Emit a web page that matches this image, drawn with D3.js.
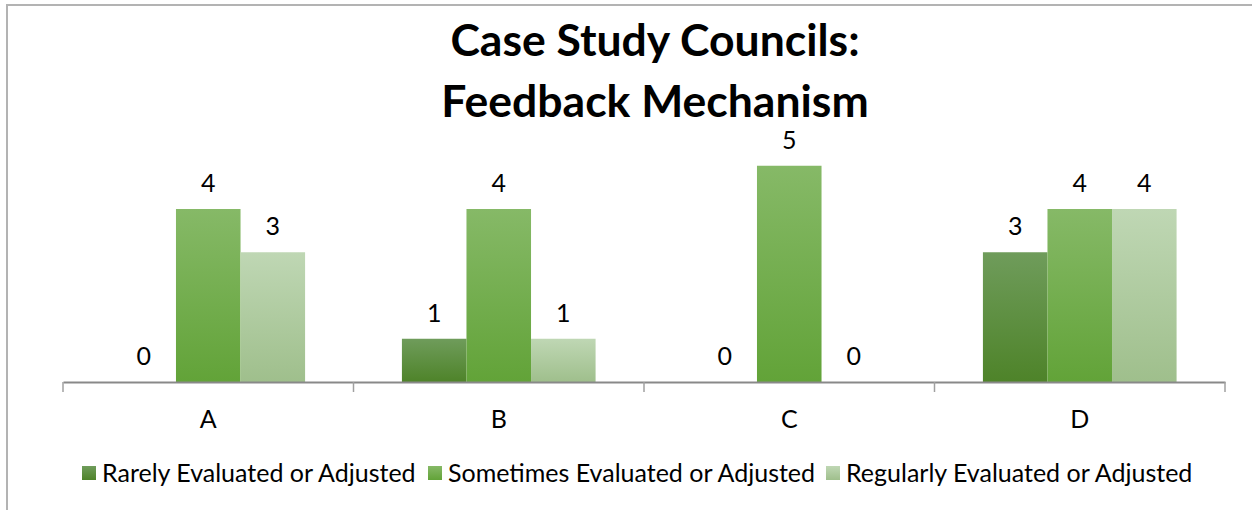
<!DOCTYPE html>
<html>
<head>
<meta charset="utf-8">
<script src="https://cdn.jsdelivr.net/npm/d3@7"></script>
<style>
  html, body { margin: 0; padding: 0; background: #fff; }
  svg text { font-family: Lato, "Open Sans", sans-serif; fill: #000; }
</style>
</head>
<body>
<div id="chart"></div>
<script>
const categories = ["A", "B", "C", "D"];
const seriesNames = ["Rarely Evaluated or Adjusted", "Sometimes Evaluated or Adjusted", "Regularly Evaluated or Adjusted"];
const rarely = [0, 1, 0, 3];
const sometimes = [4, 4, 5, 4];
const regularly = [3, 1, 0, 4];
const titleLines = ["Case Study Councils:", "Feedback Mechanism"];

const width = 1252, height = 510;
const svg = d3.select("#chart").append("svg")
    .attr("width", width)
    .attr("height", height);

// gradients, dark on the bottom like the office look
const gradColors = [
    ["#6f9c5b", "#4e8329"],
    ["#86b967", "#62a338"],
    ["#bfd7b4", "#9fbf8c"]
];
const defs = svg.append("defs");
gradColors.forEach((c, i) => {
    const g = defs.append("linearGradient")
        .attr("id", "grad" + i)
        .attr("x1", "0%").attr("y1", "0%")
        .attr("x2", "0%").attr("y2", "100%");
    g.append("stop").attr("offset", "0%").attr("stop-color", c[0]);
    g.append("stop").attr("offset", "100%").attr("stop-color", c[1]);
});

// chart border (only left/top visible in the crop)
svg.append("path")
    .attr("d", "M7,515 L7,5 L1260,5")
    .attr("fill", "none")
    .attr("stroke", "#b3b3b3")
    .attr("stroke-width", 2);

// title
svg.append("text")
    .attr("text-anchor", "middle")
    .style("font-size", "44.5px")
    .style("font-weight", "bold")
    .selectAll("tspan")
    .data(titleLines)
    .enter().append("tspan")
    .attr("x", 655)
    .attr("y", (d, i) => 56 + i * 61)
    .text(d => d);

const plotLeft = 63, plotRight = 1225;
const x = d3.scaleBand()
    .domain(categories)
    .range([plotLeft, plotRight])
    .padding(0);

const xInner = d3.scaleBand()
    .domain(d3.range(seriesNames.length))
    .range([0, x.bandwidth()])
    .paddingInner(0)
    .paddingOuter(0.75);

const y = d3.scaleLinear()
    .domain([0, 6])
    .range([382, 122.5]);

const table = categories.map((c, i) => ({
    cat: c,
    values: [rarely[i], sometimes[i], regularly[i]]
}));

const groups = svg.selectAll(".grp")
    .data(table)
    .enter().append("g")
    .attr("class", "grp")
    .attr("transform", d => `translate(${x(d.cat)},0)`);

groups.selectAll("rect")
    .data(d => d.values.map((v, s) => ({ v, s })))
    .enter().append("rect")
    .attr("x", d => xInner(d.s))
    .attr("y", d => y(d.v))
    .attr("width", xInner.bandwidth())
    .attr("height", d => y(0) - y(d.v))
    .attr("fill", d => `url(#grad${d.s})`);

groups.selectAll(".val")
    .data(d => d.values.map((v, s) => ({ v, s })))
    .enter().append("text")
    .attr("class", "val")
    .attr("x", d => xInner(d.s) + xInner.bandwidth() / 2)
    .attr("y", d => y(d.v) - 17)
    .attr("text-anchor", "middle")
    .style("font-size", "25px")
    .text(d => d.v);

// x axis
const axis = svg.append("g")
    .attr("transform", `translate(0,${y(0)})`)
    .call(d3.axisBottom(x).tickSize(0).tickFormat(""));
axis.select(".domain").attr("stroke", "#898989").attr("stroke-width", 2);

const boundaries = categories.map(c => x(c)).concat([plotRight]);
svg.selectAll(".tick-mark")
    .data(boundaries)
    .enter().append("line")
    .attr("class", "tick-mark")
    .attr("x1", d => d).attr("x2", d => d)
    .attr("y1", y(0)).attr("y2", y(0) + 10)
    .attr("stroke", "#a0a0a0")
    .attr("stroke-width", 1.5);

svg.selectAll(".cat")
    .data(categories)
    .enter().append("text")
    .attr("class", "cat")
    .attr("x", d => x(d) + x.bandwidth() / 2)
    .attr("y", 428)
    .attr("text-anchor", "middle")
    .style("font-size", "25px")
    .text(d => d);

// legend
const legendX = [82, 428, 826];
const legend = svg.selectAll(".leg")
    .data(seriesNames)
    .enter().append("g")
    .attr("class", "leg")
    .attr("transform", (d, i) => `translate(${legendX[i]},466)`);
legend.append("rect")
    .attr("width", 14).attr("height", 14)
    .attr("fill", (d, i) => `url(#grad${i})`);
legend.append("text")
    .attr("x", 20)
    .attr("y", 16)
    .style("font-size", "25px")
    .text(d => d);
</script>
</body>
</html>
